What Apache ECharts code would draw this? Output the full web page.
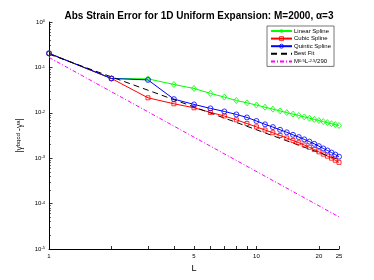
<!DOCTYPE html>
<html><head><meta charset="utf-8">
<script src="https://cdn.jsdelivr.net/npm/echarts@6/dist/echarts.min.js"></script>
<style>html,body{margin:0;padding:0;background:#fff}#c{width:374px;height:280px}</style>
</head><body><div id="c"></div>
<script>
const L = [1,2,3,4,5,6,7,8,9,10,11,12,13,14,15,16,17,18,19,20,21,22,23,24,25];
const linearSpline = [0.204,0.057,0.056,0.042,0.0344,0.0267,0.0222,0.0187,0.0166,0.0148,0.01328,0.01204,0.0110,0.01011,0.00935,0.0087,0.00812,0.00761,0.00716,0.00676,0.0064,0.00607,0.00577,0.0055,0.00525];
const cubicSpline = [0.204,0.057,0.0214,0.0158,0.0129,0.0102,0.0085,0.0070,0.0058,0.0049,0.00417,0.00363,0.00316,0.00279,0.00245,0.00219,0.00195,0.00174,0.00155,0.00138,0.00123,0.00111,0.00100,0.00090,0.00081];
const quinticSpline = [0.204,0.057,0.053,0.020,0.0153,0.0125,0.0107,0.0092,0.0079,0.0066,0.00556,0.00484,0.00422,0.00372,0.00327,0.00292,0.00260,0.00232,0.00207,0.00184,0.00164,0.00148,0.00133,0.00120,0.00108];
const fitL = [1,25];
const bestFit = [0.196,0.00092];
const refLine = [0.166,0.000051];
const xTickLabels = [1,5,10,20,25];
const xTicks = [1,2,3,4,5,6,7,8,9,10,20,25];
const yTicks = [1e-5,1e-4,1e-3,1e-2,1e-1,1];
const yMinorTicks = [];
[1e-5,1e-4,1e-3,1e-2,1e-1].forEach(d=>{for(let k=2;k<=9;k++) yMinorTicks.push(+(d*k).toPrecision(3));});

const FF = 'Liberation Sans, Arial, Helvetica, sans-serif';
const CLEAR = 'rgba(0,0,0,0)';
const pair = (xs, ys) => xs.map((x,i)=>[x, ys[i]]);
const hollow = c => ({color:CLEAR, borderColor:c, borderWidth:0.8});
const chart = echarts.init(document.getElementById('c'), null, {renderer:'canvas'});
const yCommon = {
  type:'log', logBase:10, min:1e-5, max:1, position:'left',
  splitLine:{show:false}
};
chart.setOption({
  animation:false,
  backgroundColor:'#fff',
  title:{
    text:'Abs Strain Error for 1D Uniform Expansion: M=2000, \u03b1=3',
    left:194, top:6, textAlign:'center',
    textStyle:{fontFamily:FF, fontSize:10, fontWeight:'bold', color:'#000'}
  },
  legend:{
    orient:'vertical', left:267, top:26,
    itemWidth:21, itemHeight:5, itemGap:1.6,
    padding:[2,3,2,3],
    borderColor:'#555', borderWidth:0.8, backgroundColor:'#fff',
    textStyle:{fontFamily:FF, fontSize:6, color:'#000', padding:[0,0,0,-3],
      rich:{s:{fontSize:4.2, verticalAlign:'top', fontFamily:FF, color:'#000'}}},
    formatter: n => n==='ref' ? 'M{s|0.5}L{s|-2.5}/290' : n,
    data:[
      {name:'Linear Spline', itemStyle:hollow('#00ff00')},
      {name:'Cubic Spline', itemStyle:hollow('#ff0000')},
      {name:'Quintic Spline', itemStyle:hollow('#0000ff')},
      {name:'Best Fit', itemStyle:{opacity:0}}, {name:'ref', itemStyle:{opacity:0}}]
  },
  grid:{left:49, right:35, top:22, bottom:31},
  xAxis:{
    type:'log', logBase:10, min:1, max:25,
    name:'L', nameLocation:'middle', nameGap:14,
    nameTextStyle:{fontFamily:FF, fontSize:9, color:'#000'},
    axisLine:{lineStyle:{color:'#000', width:1}},
    axisTick:{inside:true, length:3, customValues:xTicks, lineStyle:{color:'#000', width:0.8}},
    axisLabel:{customValues:xTickLabels, margin:4, fontFamily:FF, fontSize:6, color:'#000', formatter: v=>String(v)},
    splitLine:{show:false}, minorTick:{show:false}
  },
  yAxis:[
    Object.assign({}, yCommon, {
      name:'|\u03b3{s|bqcd} -\u03b3{s|a}|', nameLocation:'middle', nameGap:24, nameRotate:90,
      nameTextStyle:{fontFamily:FF, fontSize:8.5, color:'#000',
        rich:{s:{fontSize:6, verticalAlign:'top', fontFamily:FF, color:'#000'}}},
      axisLine:{show:true, lineStyle:{color:'#000', width:1}},
      axisTick:{show:true, inside:true, length:3.5, customValues:yTicks, lineStyle:{color:'#000', width:0.8}},
      axisLabel:{customValues:yTicks, margin:4, color:'#000',
        formatter: v => '{b|10}{s|' + Math.round(Math.log10(v)) + '}',
        rich:{b:{fontFamily:FF, fontSize:6, color:'#000'}, s:{fontFamily:FF, fontSize:4, verticalAlign:'top', color:'#000'}}}
    }),
    Object.assign({}, yCommon, {
      axisLine:{show:false},
      axisTick:{show:true, inside:true, length:2, customValues:yMinorTicks, lineStyle:{color:'#000', width:0.6}},
      axisLabel:{show:false}
    })
  ],
  series:[
    {name:'Linear Spline', type:'line', data:pair(L, linearSpline), symbol:'diamond', symbolSize:[5,6],
      lineStyle:{color:'#00ff00', width:1}, itemStyle:hollow('#00ff00'), color:'#00ff00'},
    {name:'Cubic Spline', type:'line', data:pair(L, cubicSpline), symbol:'rect', symbolSize:4,
      lineStyle:{color:'#ff0000', width:1}, itemStyle:hollow('#ff0000'), color:'#ff0000'},
    {name:'Quintic Spline', type:'line', data:pair(L, quinticSpline), symbol:'circle', symbolSize:5,
      lineStyle:{color:'#0000ff', width:1}, itemStyle:hollow('#0000ff'), color:'#0000ff'},
    {name:'Best Fit', type:'line', data:pair(fitL, bestFit), symbol:'none', showSymbol:false,
      lineStyle:{color:'#000', width:1, type:[6,4]}, itemStyle:{color:'#000'}, color:'#000'},
    {name:'ref', type:'line', data:pair(fitL, refLine), symbol:'none', showSymbol:false,
      lineStyle:{color:'#ff00ff', width:1, type:[4,2,1,2]}, itemStyle:{color:'#ff00ff'}, color:'#ff00ff'}
  ]
});
</script></body></html>
